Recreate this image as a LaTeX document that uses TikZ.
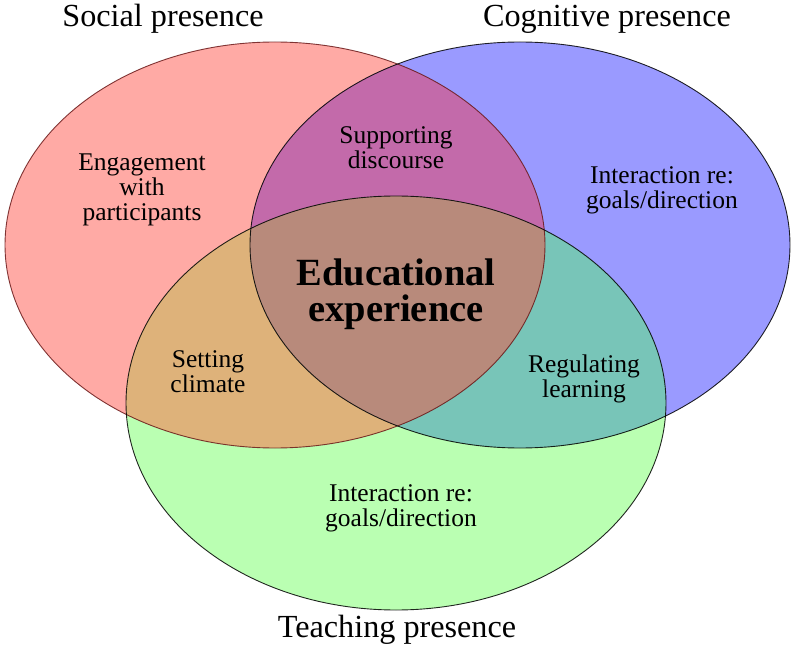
\documentclass[tikz,border=0pt]{standalone}
\usepackage{fontspec}
\setmainfont{Liberation Serif}
\definecolor{cR}{HTML}{FFAAA5}
\definecolor{cB}{HTML}{9A9AFF}
\definecolor{cG}{HTML}{BAFFB2}
\definecolor{cRB}{HTML}{C36AAA}
\definecolor{cRG}{HTML}{DEB27A}
\definecolor{cBG}{HTML}{78C5B8}
\definecolor{cRBG}{HTML}{B88A7B}
\definecolor{cRline}{HTML}{6A1818}
\begin{document}
\begin{tikzpicture}[x=1pt,y=-1pt,
  ttl/.style={font=\fontsize{32.2}{34}\selectfont, inner sep=0pt},
  lbl/.style={font=\fontsize{25.5}{25}\selectfont, align=center, inner sep=0pt},
  big/.style={font=\fontsize{38.5}{36}\selectfont\bfseries, align=center, inner sep=0pt},
  rim/.style={line width=0.9pt, draw opacity=0.85}]
\useasboundingbox (0,0) rectangle (796,650);
\fill[white] (0,0) rectangle (796,650);
\def\Rell{(275,245) ellipse [x radius=270pt, y radius=203pt]}
\def\Bell{(520,245) ellipse [x radius=270pt, y radius=203pt]}
\def\Gell{(396,403) ellipse [x radius=270pt, y radius=207pt]}
\fill[cR] \Rell;
\fill[cB] \Bell;
\fill[cG] \Gell;
\begin{scope}\clip \Rell; \fill[cRB] \Bell; \end{scope}
\begin{scope}\clip \Rell; \fill[cRG] \Gell; \end{scope}
\begin{scope}\clip \Bell; \fill[cBG] \Gell; \end{scope}
\begin{scope}\clip \Rell; \clip \Bell; \fill[cRBG] \Gell; \end{scope}
\draw[rim, cRline] \Rell;
\draw[rim, black] \Bell;
\draw[rim, black] \Gell;
\node[ttl] (ts) at (163,19) {Social presence};
\node[ttl] (tc) at (607,19) {Cognitive presence};
\node[ttl] (tt) at (397,630) {Teaching presence};
\node[lbl] (eng) at (142,190) {Engagement\\with\\participants};
\node[lbl] (sup) at (396,148) {Supporting\\discourse};
\node[lbl] (irc) at (662,190) {Interaction re:\\goals/direction};
\node[big] (edu) at (396,294) {Educational\\experience};
\node[lbl] (set) at (208,372) {Setting\\climate};
\node[lbl] (reg) at (584,379) {Regulating\\learning};
\node[lbl] (irt) at (401,508) {Interaction re:\\goals/direction};
\end{tikzpicture}
\end{document}
